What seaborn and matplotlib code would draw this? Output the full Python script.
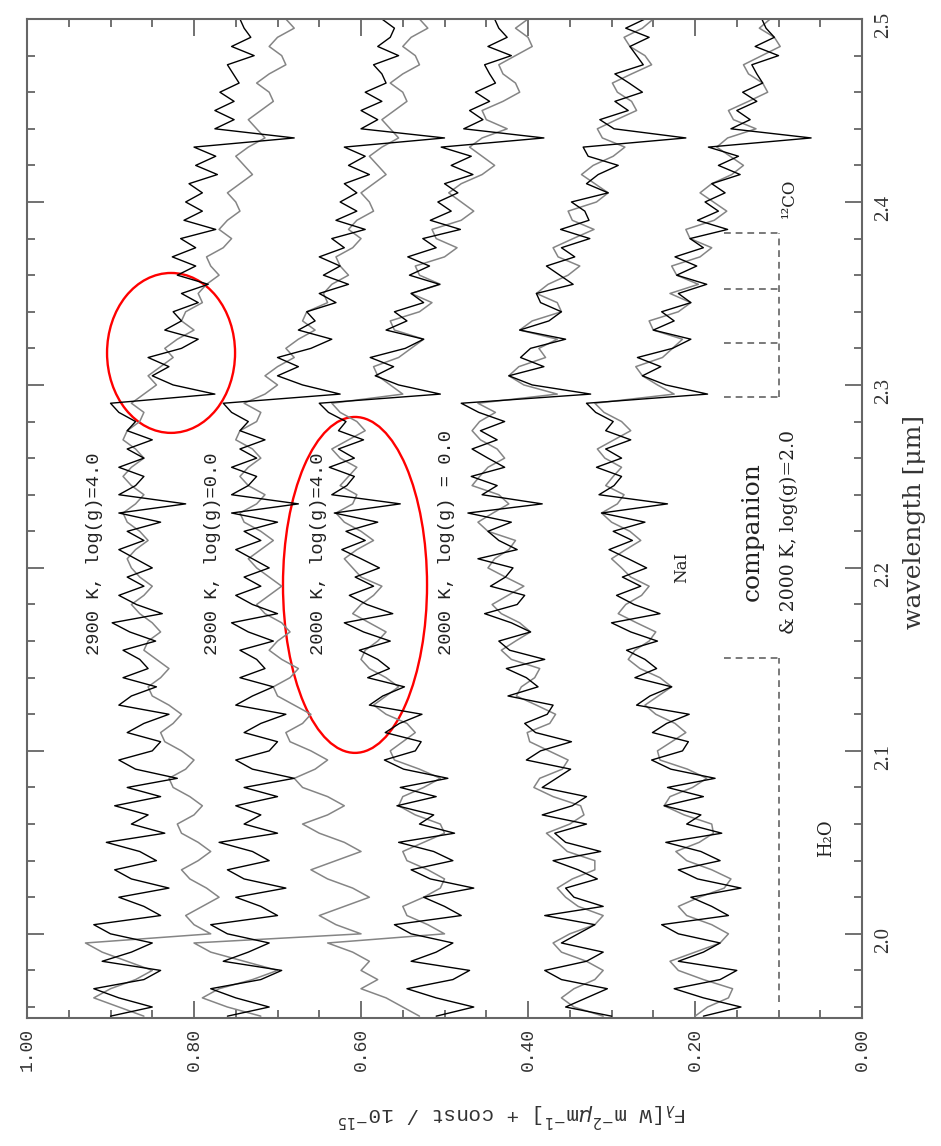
import numpy as np
import matplotlib
matplotlib.use("Agg")
import matplotlib.pyplot as plt
from matplotlib.patches import Ellipse
from matplotlib.ticker import MultipleLocator, FormatStrFormatter
import seaborn as sns

# Wavelength sampling of all spectra (micron)
wavelength = np.round(np.arange(1.955, 2.5001, 0.005), 3)

# Companion spectrum (black) and model spectra (grey), already shifted by
# the constant of each panel; flux in units of 1e-15 W m^-2 um^-1
comp_2900_g40 = [
    0.900, 0.850, 0.890, 0.920, 0.860, 0.840, 0.910, 0.875, 0.850, 0.900,
    0.920, 0.840, 0.860, 0.890, 0.830, 0.875, 0.895, 0.845, 0.865, 0.905,
    0.835, 0.875, 0.855, 0.895, 0.840, 0.880, 0.820, 0.870, 0.890, 0.850,
    0.840, 0.880, 0.860, 0.830, 0.890, 0.875, 0.845, 0.885, 0.855, 0.865,
    0.885, 0.846, 0.877, 0.898, 0.838, 0.869, 0.890, 0.860, 0.880, 0.850,
    0.870, 0.890, 0.860, 0.880, 0.840, 0.890, 0.810, 0.890, 0.870, 0.860,
    0.890, 0.860, 0.880, 0.850, 0.880, 0.870, 0.890, 0.900, 0.775, 0.825,
    0.850, 0.830, 0.855, 0.815, 0.795, 0.835, 0.815, 0.825, 0.795, 0.815,
    0.783, 0.820, 0.798, 0.826, 0.798, 0.816, 0.774, 0.812, 0.790, 0.810,
    0.790, 0.806, 0.772, 0.798, 0.774, 0.800, 0.680, 0.775, 0.752, 0.775,
    0.752, 0.769, 0.746, 0.753, 0.760, 0.728, 0.755, 0.732, 0.740, 0.745,
]
model_2900_g40 = [
    0.860, 0.890, 0.920, 0.900, 0.870, 0.850, 0.880, 0.910, 0.930, 0.780,
    0.800, 0.810, 0.790, 0.770, 0.785, 0.805, 0.815, 0.795, 0.780, 0.795,
    0.815, 0.820, 0.800, 0.790, 0.805, 0.825, 0.830, 0.810, 0.800, 0.815,
    0.835, 0.840, 0.825, 0.815, 0.830, 0.850, 0.855, 0.840, 0.830, 0.845,
    0.860, 0.855, 0.840, 0.850, 0.865, 0.875, 0.860, 0.850, 0.865, 0.875,
    0.880, 0.870, 0.855, 0.865, 0.880, 0.885, 0.870, 0.860, 0.875, 0.885,
    0.875, 0.860, 0.870, 0.885, 0.880, 0.865, 0.860, 0.875, 0.860, 0.845,
    0.855, 0.840, 0.825, 0.835, 0.820, 0.800, 0.815, 0.810, 0.790, 0.795,
    0.785, 0.770, 0.780, 0.785, 0.765, 0.755, 0.770, 0.760, 0.745, 0.750,
    0.760, 0.745, 0.730, 0.740, 0.750, 0.735, 0.715, 0.725, 0.735, 0.720,
    0.705, 0.710, 0.725, 0.710, 0.690, 0.695, 0.710, 0.700, 0.680, 0.690,
]
comp_2900_g00 = [
    0.760, 0.710, 0.750, 0.780, 0.720, 0.695, 0.765, 0.735, 0.710, 0.760,
    0.780, 0.700, 0.720, 0.750, 0.690, 0.740, 0.760, 0.710, 0.730, 0.770,
    0.700, 0.740, 0.720, 0.750, 0.700, 0.740, 0.680, 0.730, 0.750, 0.710,
    0.700, 0.740, 0.720, 0.690, 0.750, 0.730, 0.705, 0.745, 0.715, 0.725,
    0.745, 0.705, 0.735, 0.755, 0.700, 0.730, 0.750, 0.720, 0.740, 0.710,
    0.730, 0.750, 0.720, 0.740, 0.700, 0.755, 0.675, 0.755, 0.735, 0.725,
    0.755, 0.725, 0.745, 0.715, 0.745, 0.735, 0.755, 0.765, 0.625, 0.670,
    0.700, 0.675, 0.700, 0.660, 0.635, 0.675, 0.655, 0.665, 0.630, 0.650,
    0.615, 0.645, 0.625, 0.650, 0.620, 0.635, 0.595, 0.630, 0.605, 0.625,
    0.605, 0.620, 0.590, 0.615, 0.595, 0.620, 0.500, 0.600, 0.580, 0.600,
    0.575, 0.595, 0.570, 0.575, 0.585, 0.555, 0.580, 0.565, 0.560, 0.575,
]
model_2900_g00 = [
    0.720, 0.760, 0.790, 0.770, 0.730, 0.700, 0.740, 0.780, 0.800, 0.600,
    0.630, 0.650, 0.620, 0.590, 0.610, 0.640, 0.660, 0.630, 0.600, 0.620,
    0.650, 0.670, 0.640, 0.620, 0.640, 0.670, 0.680, 0.655, 0.640, 0.660,
    0.685, 0.690, 0.670, 0.660, 0.680, 0.700, 0.705, 0.685, 0.675, 0.695,
    0.710, 0.700, 0.685, 0.695, 0.715, 0.725, 0.710, 0.695, 0.710, 0.725,
    0.735, 0.720, 0.705, 0.720, 0.740, 0.745, 0.725, 0.715, 0.735, 0.745,
    0.735, 0.720, 0.730, 0.750, 0.745, 0.725, 0.720, 0.740, 0.715, 0.700,
    0.715, 0.700, 0.680, 0.690, 0.675, 0.655, 0.670, 0.665, 0.640, 0.645,
    0.635, 0.615, 0.625, 0.630, 0.610, 0.600, 0.615, 0.605, 0.585, 0.590,
    0.600, 0.585, 0.570, 0.580, 0.590, 0.575, 0.555, 0.565, 0.575, 0.560,
    0.545, 0.550, 0.565, 0.550, 0.530, 0.535, 0.550, 0.540, 0.520, 0.530,
]
comp_2000_g40 = [
    0.510, 0.465, 0.510, 0.545, 0.490, 0.470, 0.540, 0.510, 0.490, 0.540,
    0.560, 0.480, 0.500, 0.525, 0.465, 0.517, 0.540, 0.490, 0.513, 0.555,
    0.488, 0.530, 0.513, 0.557, 0.510, 0.553, 0.496, 0.549, 0.572, 0.535,
    0.528, 0.571, 0.554, 0.527, 0.590, 0.574, 0.548, 0.592, 0.566, 0.580,
    0.602, 0.565, 0.597, 0.620, 0.562, 0.593, 0.614, 0.585, 0.607, 0.578,
    0.600, 0.623, 0.595, 0.618, 0.580, 0.632, 0.553, 0.635, 0.617, 0.608,
    0.638, 0.608, 0.627, 0.597, 0.627, 0.618, 0.639, 0.650, 0.505, 0.555,
    0.583, 0.561, 0.589, 0.547, 0.525, 0.570, 0.545, 0.560, 0.525, 0.540,
    0.506, 0.542, 0.518, 0.544, 0.510, 0.526, 0.481, 0.517, 0.492, 0.508,
    0.484, 0.500, 0.466, 0.492, 0.468, 0.504, 0.381, 0.477, 0.454, 0.470,
    0.446, 0.463, 0.439, 0.446, 0.452, 0.420, 0.448, 0.425, 0.435, 0.440,
]
model_2000_g40 = [
    0.530, 0.550, 0.570, 0.600, 0.580, 0.600, 0.590, 0.610, 0.640, 0.500,
    0.520, 0.545, 0.550, 0.525, 0.505, 0.500, 0.520, 0.545, 0.550, 0.525,
    0.500, 0.505, 0.535, 0.555, 0.550, 0.525, 0.505, 0.530, 0.560, 0.565,
    0.550, 0.535, 0.545, 0.570, 0.585, 0.570, 0.555, 0.570, 0.590, 0.600,
    0.595, 0.580, 0.570, 0.590, 0.610, 0.600, 0.585, 0.575, 0.600, 0.610,
    0.620, 0.605, 0.585, 0.600, 0.620, 0.630, 0.610, 0.605, 0.625, 0.615,
    0.605, 0.625, 0.635, 0.615, 0.595, 0.605, 0.625, 0.635, 0.550, 0.565,
    0.580, 0.585, 0.555, 0.540, 0.525, 0.560, 0.565, 0.530, 0.515, 0.540,
    0.505, 0.530, 0.535, 0.500, 0.485, 0.510, 0.515, 0.480, 0.465, 0.480,
    0.495, 0.480, 0.455, 0.440, 0.455, 0.470, 0.455, 0.425, 0.450, 0.455,
    0.430, 0.410, 0.415, 0.430, 0.435, 0.415, 0.395, 0.400, 0.415, 0.400,
]
comp_2000_g00 = [
    0.300, 0.355, 0.330, 0.305, 0.360, 0.380, 0.330, 0.310, 0.360, 0.340,
    0.320, 0.380, 0.310, 0.345, 0.355, 0.317, 0.340, 0.370, 0.313, 0.355,
    0.368, 0.330, 0.383, 0.347, 0.330, 0.383, 0.366, 0.349, 0.402, 0.385,
    0.348, 0.391, 0.404, 0.377, 0.370, 0.424, 0.388, 0.402, 0.426, 0.380,
    0.422, 0.435, 0.397, 0.420, 0.452, 0.413, 0.404, 0.445, 0.427, 0.418,
    0.460, 0.413, 0.435, 0.448, 0.420, 0.472, 0.383, 0.455, 0.437, 0.468,
    0.428, 0.448, 0.467, 0.437, 0.457, 0.428, 0.459, 0.480, 0.325, 0.395,
    0.423, 0.381, 0.409, 0.397, 0.355, 0.410, 0.375, 0.360, 0.385, 0.390,
    0.346, 0.362, 0.378, 0.344, 0.360, 0.326, 0.361, 0.327, 0.332, 0.348,
    0.304, 0.330, 0.316, 0.292, 0.328, 0.334, 0.211, 0.297, 0.314, 0.280,
    0.296, 0.263, 0.279, 0.296, 0.262, 0.270, 0.278, 0.255, 0.283, 0.260,
]
model_2000_g00 = [
    0.310, 0.345, 0.360, 0.345, 0.320, 0.310, 0.330, 0.360, 0.370, 0.350,
    0.320, 0.310, 0.340, 0.355, 0.365, 0.347, 0.320, 0.320, 0.353, 0.365,
    0.378, 0.350, 0.333, 0.337, 0.370, 0.393, 0.386, 0.359, 0.352, 0.375,
    0.398, 0.401, 0.374, 0.367, 0.390, 0.414, 0.408, 0.392, 0.386, 0.420,
    0.432, 0.415, 0.397, 0.410, 0.432, 0.443, 0.424, 0.405, 0.427, 0.448,
    0.440, 0.423, 0.415, 0.448, 0.460, 0.442, 0.423, 0.435, 0.467, 0.458,
    0.448, 0.428, 0.437, 0.457, 0.467, 0.458, 0.439, 0.460, 0.365, 0.405,
    0.423, 0.411, 0.379, 0.387, 0.365, 0.410, 0.395, 0.360, 0.365, 0.390,
    0.376, 0.352, 0.338, 0.364, 0.370, 0.346, 0.321, 0.347, 0.352, 0.318,
    0.304, 0.320, 0.336, 0.322, 0.298, 0.284, 0.311, 0.317, 0.294, 0.270,
    0.276, 0.293, 0.299, 0.276, 0.252, 0.260, 0.278, 0.285, 0.263, 0.250,
]
comp_2000_g20 = [
    0.190, 0.145, 0.190, 0.225, 0.170, 0.150, 0.220, 0.190, 0.170, 0.220,
    0.240, 0.160, 0.180, 0.205, 0.145, 0.197, 0.220, 0.170, 0.193, 0.235,
    0.168, 0.210, 0.193, 0.237, 0.190, 0.233, 0.176, 0.229, 0.252, 0.215,
    0.208, 0.251, 0.234, 0.207, 0.270, 0.254, 0.228, 0.272, 0.246, 0.260,
    0.282, 0.245, 0.277, 0.300, 0.242, 0.273, 0.294, 0.265, 0.287, 0.258,
    0.280, 0.303, 0.275, 0.298, 0.260, 0.312, 0.233, 0.315, 0.297, 0.288,
    0.318, 0.288, 0.307, 0.277, 0.307, 0.298, 0.319, 0.330, 0.185, 0.235,
    0.263, 0.241, 0.269, 0.227, 0.205, 0.250, 0.225, 0.240, 0.205, 0.220,
    0.186, 0.222, 0.198, 0.224, 0.190, 0.206, 0.161, 0.197, 0.172, 0.188,
    0.164, 0.180, 0.146, 0.172, 0.148, 0.184, 0.061, 0.157, 0.134, 0.150,
    0.126, 0.143, 0.119, 0.126, 0.132, 0.100, 0.128, 0.105, 0.115, 0.120,
]
model_2000_g20 = [
    0.200, 0.185, 0.160, 0.155, 0.190, 0.220, 0.230, 0.200, 0.170, 0.160,
    0.180, 0.210, 0.220, 0.195, 0.165, 0.157, 0.180, 0.210, 0.223, 0.195,
    0.178, 0.180, 0.213, 0.237, 0.230, 0.203, 0.186, 0.209, 0.242, 0.245,
    0.228, 0.211, 0.224, 0.247, 0.260, 0.244, 0.228, 0.242, 0.266, 0.280,
    0.272, 0.255, 0.247, 0.270, 0.292, 0.283, 0.264, 0.255, 0.277, 0.288,
    0.300, 0.283, 0.265, 0.278, 0.300, 0.312, 0.293, 0.285, 0.307, 0.298,
    0.288, 0.308, 0.317, 0.297, 0.277, 0.288, 0.309, 0.320, 0.225, 0.245,
    0.263, 0.271, 0.239, 0.227, 0.215, 0.250, 0.255, 0.220, 0.205, 0.230,
    0.196, 0.222, 0.228, 0.194, 0.180, 0.206, 0.211, 0.177, 0.162, 0.178,
    0.194, 0.180, 0.156, 0.142, 0.158, 0.174, 0.161, 0.127, 0.154, 0.160,
    0.136, 0.113, 0.119, 0.136, 0.142, 0.120, 0.098, 0.105, 0.123, 0.110,
]

model_labels = ["2900 K, log(g)=4.0", "2900 K, log(g)=0.0",
                "2000 K, log(g)=4.0", "2000 K, log(g) = 0.0"]
label_flux = [0.919, 0.778, 0.651, 0.498]
label_start = 2.1525

companion_label = "companion"
companion_model_label = "& 2000 K, log(g)=2.0"

h2o_band = (1.963, 2.151)
co_bandheads = [2.2935, 2.3227, 2.3525, 2.3829]

flux_ticks = [0.0, 0.2, 0.4, 0.6, 0.8, 1.0]
wave_ticks = [2.0, 2.1, 2.2, 2.3, 2.4, 2.5]

panels = [
    (comp_2900_g40, model_2900_g40),
    (comp_2900_g00, model_2900_g00),
    (comp_2000_g40, model_2000_g40),
    (comp_2000_g00, model_2000_g00),
    (comp_2000_g20, model_2000_g20),
]

sns.set_style("ticks")
plt.rcParams["font.family"] = ["DejaVu Serif", "DejaVu Sans"]
plt.rcParams["axes.edgecolor"] = "#666666"

fig = plt.figure(figsize=(9.41, 11.46), dpi=100)
ax = fig.add_axes([0.0287, 0.1117, 0.8874, 0.8717])

for comp, model in panels:
    sns.lineplot(x=np.asarray(model), y=wavelength, sort=False,
                 estimator=None, color="#858585", lw=1.1, ax=ax)
    sns.lineplot(x=np.asarray(comp), y=wavelength, sort=False,
                 estimator=None, color="#000000", lw=1.0, ax=ax)

ax.set_xlim(1.0, 0.0)
ax.set_ylim(1.954, 2.5)

# Feature markers
dash = dict(color="#7a7a7a", lw=1.4, ls=(0, (3.5, 2.5)))
ax.plot([0.0994, 0.0994], list(h2o_band), **dash)
ax.plot([0.165, 0.0994], [h2o_band[1], h2o_band[1]], **dash)
ax.plot([0.0994, 0.0994], [co_bandheads[0], co_bandheads[-1]], **dash)
for bh in co_bandheads:
    ax.plot([0.165, 0.0994], [bh, bh], **dash)

txt = dict(rotation=90, rotation_mode="anchor", color="#222222")
for lab, fx in zip(model_labels, label_flux):
    ax.text(fx, label_start, lab, ha="left", va="center",
            family="Liberation Mono", fontsize=13.5, **txt)
ax.text(0.132, 2.2197, companion_label, ha="center", va="center",
        family="DejaVu Serif", fontsize=18, **txt)
ax.text(0.0874, 2.2197, companion_model_label, ha="center", va="center",
        family="DejaVu Serif", fontsize=13.5, **txt)
ax.text(0.216, 2.2005, "NaI", ha="center", va="center",
        family="DejaVu Serif", fontsize=12, **txt)
ax.text(0.087, 2.402, "¹²CO", ha="center", va="center",
        family="DejaVu Serif", fontsize=12, **txt)
ax.text(0.043, 2.0525, "H₂O", ha="center", va="center",
        family="DejaVu Serif", fontsize=13, **txt)

# Highlight ellipses
ax.add_patch(Ellipse((0.8275, 2.3175), width=0.1533, height=0.0874,
                     fill=False, ec="#ff0000", lw=1.7))
ax.add_patch(Ellipse((0.6072, 2.1907), width=0.1725, height=0.1836,
                     fill=False, ec="#ff0000", lw=1.7))

# Axes, ticks and labels
ax.set_xticks(flux_ticks)
ax.set_yticks(wave_ticks)
ax.xaxis.set_minor_locator(MultipleLocator(0.05))
ax.yaxis.set_minor_locator(MultipleLocator(0.02))
ax.xaxis.set_major_formatter(FormatStrFormatter("%.2f"))
ax.yaxis.set_major_formatter(FormatStrFormatter("%.1f"))
ax.tick_params(which="both", direction="in", top=True, bottom=True,
               left=True, right=True, labelleft=False, labelright=True,
               labelbottom=True, labeltop=False, color="#666666")
ax.tick_params(which="major", length=12, width=1.3)
ax.tick_params(which="minor", length=6, width=1.3)
ax.tick_params(axis="x", labelrotation=90, pad=7, labelsize=13,
               labelcolor="#333333")
ax.tick_params(axis="y", labelrotation=90, pad=9, labelsize=15,
               labelcolor="#333333")
for t in ax.get_xticklabels():
    t.set_family("Liberation Mono")
for t in ax.get_yticklabels():
    t.set_family("Liberation Serif")
for s in ax.spines.values():
    s.set_linewidth(1.5)
    s.set_color("#666666")

ax.set_xlabel(r"F$_\lambda$[W m$^{-2}$$\mu$m$^{-1}$] + const / 10$^{-15}$",
              rotation=180, family="Liberation Mono", fontsize=15,
              color="#333333", ha="center", va="center")
ax.xaxis.set_label_coords(0.581, -0.097)
ax.yaxis.set_label_position("right")
ax.set_ylabel("wavelength [μm]", rotation=90, family="DejaVu Serif",
              fontsize=18, color="#333333", ha="center", va="center")
ax.yaxis.set_label_coords(1.063, 0.4965)

fig.savefig("out.png", dpi=100, facecolor="white")
